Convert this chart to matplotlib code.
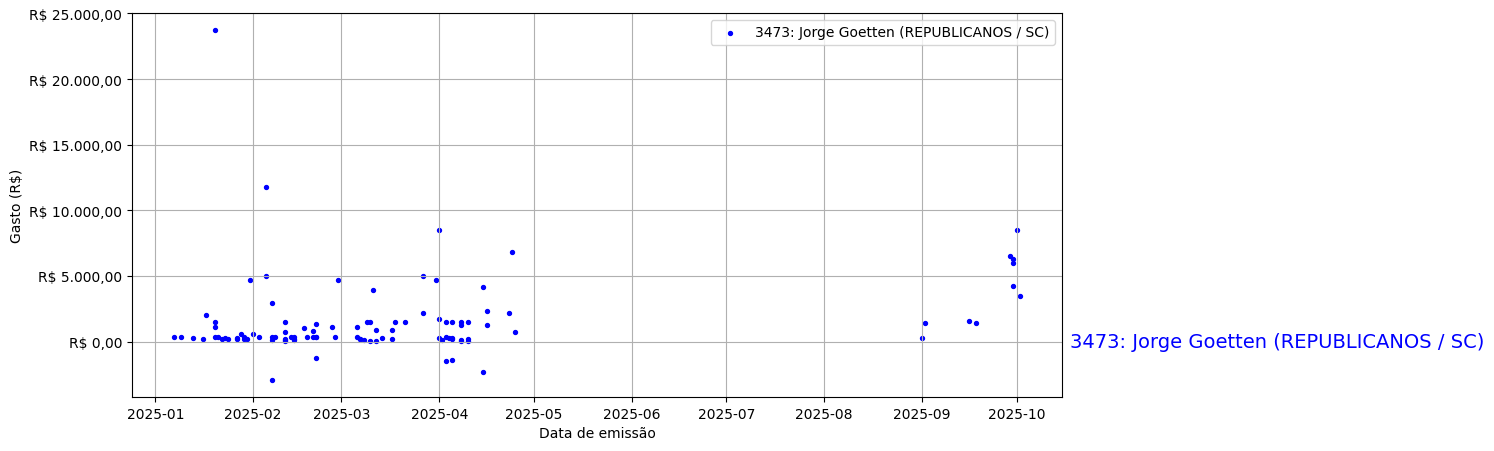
import matplotlib
matplotlib.use("Agg")
import matplotlib.pyplot as plt
import matplotlib.dates as mdates
from matplotlib.ticker import FuncFormatter
import pandas as pd

label = "3473: Jorge Goetten (REPUBLICANOS / SC)"

dates = [
    "2025-01-07", "2025-01-09", "2025-01-13", "2025-01-16", "2025-01-17", "2025-01-20",
    "2025-01-20", "2025-01-20", "2025-01-20", "2025-01-21", "2025-01-22", "2025-01-23",
    "2025-01-24", "2025-01-27", "2025-01-27", "2025-01-28", "2025-01-29", "2025-01-29",
    "2025-01-30", "2025-01-31",
    "2025-02-01", "2025-02-03", "2025-02-05", "2025-02-05", "2025-02-07", "2025-02-07",
    "2025-02-07", "2025-02-08", "2025-02-07", "2025-02-11", "2025-02-11", "2025-02-11",
    "2025-02-11", "2025-02-11", "2025-02-13", "2025-02-14", "2025-02-14", "2025-02-14",
    "2025-02-17", "2025-02-18", "2025-02-20", "2025-02-20", "2025-02-21", "2025-02-21",
    "2025-02-21", "2025-02-21", "2025-02-26", "2025-02-27", "2025-02-28",
    "2025-03-06", "2025-03-06", "2025-03-07", "2025-03-07", "2025-03-08", "2025-03-09",
    "2025-03-10", "2025-03-10", "2025-03-11", "2025-03-12", "2025-03-12", "2025-03-14",
    "2025-03-17", "2025-03-17", "2025-03-18", "2025-03-21", "2025-03-27", "2025-03-27",
    "2025-03-31",
    "2025-04-01", "2025-04-01", "2025-04-01", "2025-04-02", "2025-04-03", "2025-04-05",
    "2025-04-03", "2025-04-05", "2025-04-03", "2025-04-04", "2025-04-05", "2025-04-05",
    "2025-04-08", "2025-04-08", "2025-04-08", "2025-04-08", "2025-04-10", "2025-04-10",
    "2025-04-10", "2025-04-15", "2025-04-16", "2025-04-16", "2025-04-15", "2025-04-23",
    "2025-04-24", "2025-04-25",
    "2025-09-01", "2025-09-02", "2025-09-16", "2025-09-18", "2025-09-29", "2025-09-30",
    "2025-09-30", "2025-09-30", "2025-10-01", "2025-10-02",
]

values = [
    360, 360, 280, 200, 2050, 1500,
    1120, 23700, 360, 360, 230, 280,
    200, 280, 230, 585, 360, 230,
    200, 4690,
    585, 360, 11800, 5000, 100, 2940,
    360, 360, -2890, 1500, 740, 230,
    100, 20, 360, 360, 230, 100,
    1040, 360, 810, 360, 360, 360,
    1310, -1240, 1120, 360, 4690,
    1120, 360, 230, 200, 130, 1500,
    1500, 50, 3930, 890, 80, 280,
    890, 200, 1500, 1500, 5000, 2180,
    4690,
    8490, 1720, 280, 130, 1500, 1500,
    -1470, -1390, 360, 280, 200, 280,
    1500, 1270, 130, 50, 200, 50,
    1500, 4160, 2330, 1270, -2300, 2180,
    6820, 740,
    280, 1420, 1570, 1420, 6510, 6280,
    5980, 4230, 8490, 3470,
]

x = pd.to_datetime(dates)


def brl(v, pos=None):
    s = f"{v:,.2f}"
    s = s.replace(",", "X").replace(".", ",").replace("X", ".")
    return f"R$ {s}"


fig = plt.figure(figsize=(14.94, 4.52), dpi=100)
ax = fig.add_axes([132 / 1494, 54 / 452, 930 / 1494, 384 / 452])

ax.scatter(x, values, s=8, color="blue", label=label)

ax.xaxis.set_major_locator(mdates.MonthLocator())
ax.xaxis.set_major_formatter(mdates.DateFormatter("%Y-%m"))
ax.yaxis.set_major_formatter(FuncFormatter(brl))
ax.grid(True)
ax.set_xlabel("Data de emissão")
ax.set_ylabel("Gasto (R$)")
ax.legend(loc="upper right")

ax.annotate(label, xy=(1, 0), xycoords=ax.get_yaxis_transform(),
            xytext=(6, 0), textcoords="offset points",
            color="blue", fontsize=14, ha="left", va="center")

fig.savefig("out.png", dpi=100)
